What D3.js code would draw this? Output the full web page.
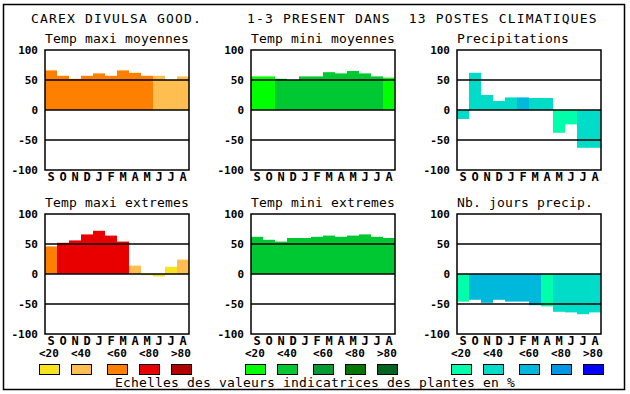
<!DOCTYPE html>
<html>
<head>
<meta charset="utf-8">
<script src="https://cdn.jsdelivr.net/npm/d3@7"></script>
<style>
  body { margin: 0; background: #fff; }
  svg { display: block; }
  text { font-family: "DejaVu Sans Mono", monospace; white-space: pre; }
</style>
</head>
<body>
<div id="chart"></div>
<script>
const WIDTH = 630, HEIGHT = 394;
const PANEL_W = 144, PANEL_H = 120;

const months = ["S", "O", "N", "D", "J", "F", "M", "A", "M", "J", "J", "A"];
const yTicks = [100, 50, 0, -50, -100];
const legendLabels = ["<20", "<40", "<60", "<80", ">80"];

// colour scales (class 0..4 = <20 .. >80 %)
const warmColors = ["#f8e41c", "#ffbe50", "#ff8000", "#e80000", "#b00000"];
const greenColors = ["#00ff00", "#00c832", "#009c32", "#007800", "#006420"];
const blueColors = ["#00ffaa", "#00dcc8", "#00b8dc", "#0096e6", "#0000ff"];

const tmaxMoyValues = [66, 57, 52, 57, 61, 57, 66, 62, 57, 57, 50, 56];
const tmaxMoyClass = [2, 2, 2, 2, 2, 2, 2, 2, 2, 1, 1, 1];

const tminMoyValues = [56, 56, 52, 50, 56, 56, 63, 61, 65, 61, 56, 54];
const tminMoyClass = [0, 0, 1, 1, 1, 1, 1, 1, 1, 1, 1, 0];

const precipValues = [-15, 62, 25, 15, 21, 21, 20, 20, -38, -24, -63, -63];
const precipClass = [1, 1, 1, 1, 1, 2, 1, 1, 0, 0, 1, 1];

const tmaxExtValues = [46, 52, 56, 66, 72, 64, 54, 14, -2, -4, 12, 24];
const tmaxExtClass = [2, 3, 3, 3, 3, 3, 3, 1, 0, 0, 0, 1];

const tminExtValues = [62, 57, 54, 60, 60, 62, 64, 62, 64, 66, 62, 60];
const tminExtClass = [1, 1, 1, 1, 1, 1, 1, 1, 1, 1, 1, 1];

const joursValues = [-46, -43, -48, -43, -46, -46, -52, -54, -63, -64, -67, -64];
const joursClass = [0, 2, 2, 2, 2, 2, 2, 0, 1, 1, 1, 1];

const panels = [
    { title: "Temp maxi moyennes", x: 45, y: 50, values: tmaxMoyValues, cls: tmaxMoyClass, colors: warmColors },
    { title: "Temp mini moyennes", x: 251, y: 50, values: tminMoyValues, cls: tminMoyClass, colors: greenColors },
    { title: "Precipitations", x: 457, y: 50, values: precipValues, cls: precipClass, colors: blueColors },
    { title: "Temp maxi extremes", x: 45, y: 214, values: tmaxExtValues, cls: tmaxExtClass, colors: warmColors },
    { title: "Temp mini extremes", x: 251, y: 214, values: tminExtValues, cls: tminExtClass, colors: greenColors },
    { title: "Nb. jours precip.", x: 457, y: 214, values: joursValues, cls: joursClass, colors: blueColors }
];

const svg = d3.select("#chart")
    .append("svg")
    .attr("width", WIDTH)
    .attr("height", HEIGHT);

// outer frame
svg.append("rect")
    .attr("x", 3.5).attr("y", 4.5)
    .attr("width", 621).attr("height", 385)
    .attr("fill", "none").attr("stroke", "#000").attr("stroke-width", 1.5);

svg.append("text")
    .attr("x", 31).attr("y", 23)
    .style("font-size", "13px")
    .style("letter-spacing", "1.17px")
    .text("CAREX DIVULSA GOOD.     1-3 PRESENT DANS  13 POSTES CLIMATIQUES");

const x = d3.scaleBand().domain(d3.range(12)).range([0, PANEL_W]).padding(0);
const y = d3.scaleLinear().domain([-100, 100]).range([PANEL_H, 0]);

panels.forEach(p => {
    const g = svg.append("g").attr("transform", `translate(${p.x}, ${p.y})`);

    g.append("text")
        .attr("x", 0).attr("y", -7)
        .style("font-size", "13px")
        .style("letter-spacing", "0.17px")
        .text(p.title);

    g.selectAll("rect.bar")
        .data(p.values)
        .join("rect")
        .attr("class", "bar")
        .attr("x", (d, i) => x(i))
        .attr("width", x.bandwidth())
        .attr("y", d => y(Math.max(0, d)))
        .attr("height", d => Math.abs(y(d) - y(0)))
        .attr("fill", (d, i) => p.colors[p.cls[i]]);

    // gridlines drawn over the bars
    g.selectAll("line.grid")
        .data([50, 0, -50])
        .join("line")
        .attr("x1", 0).attr("x2", PANEL_W)
        .attr("y1", d => y(d)).attr("y2", d => y(d))
        .attr("stroke", "#000").attr("stroke-width", 1.5);

    g.append("rect")
        .attr("width", PANEL_W).attr("height", PANEL_H)
        .attr("fill", "none").attr("stroke", "#000").attr("stroke-width", 1.5);

    g.selectAll("text.ytick")
        .data(yTicks)
        .join("text")
        .attr("class", "ytick")
        .attr("x", -7)
        .attr("y", d => y(d) + 4)
        .attr("text-anchor", "end")
        .style("font-size", "11px")
        .style("font-weight", "bold")
        .text(d => d);

    g.selectAll("text.month")
        .data(months)
        .join("text")
        .attr("class", "month")
        .attr("x", (d, i) => x(i) + x.bandwidth() / 2)
        .attr("y", PANEL_H + 11)
        .attr("text-anchor", "middle")
        .style("font-size", "12px")
        .style("font-weight", "bold")
        .text(d => d);
});

// legends under the bottom row
const legendOffsets = [-6, 26, 62, 94, 126];
[[45, warmColors], [251, greenColors], [457, blueColors]].forEach(([left, colors]) => {
    const lg = svg.append("g").attr("transform", `translate(${left}, 0)`);
    lg.selectAll("text")
        .data(legendLabels)
        .join("text")
        .attr("x", (d, i) => legendOffsets[i])
        .attr("y", 357)
        .style("font-size", "11px")
        .style("font-weight", "bold")
        .text(d => d);
    lg.selectAll("rect")
        .data(colors)
        .join("rect")
        .attr("x", (d, i) => legendOffsets[i] + 0.5)
        .attr("y", 364.5)
        .attr("width", 20).attr("height", 10)
        .attr("fill", d => d)
        .attr("stroke", "#000").attr("stroke-width", 1);
});

svg.append("text")
    .attr("x", 315).attr("y", 387)
    .attr("text-anchor", "middle")
    .style("font-size", "13px")
    .style("letter-spacing", "0.17px")
    .text("Echelles des valeurs indicatrices des plantes en %");
</script>
</body>
</html>
